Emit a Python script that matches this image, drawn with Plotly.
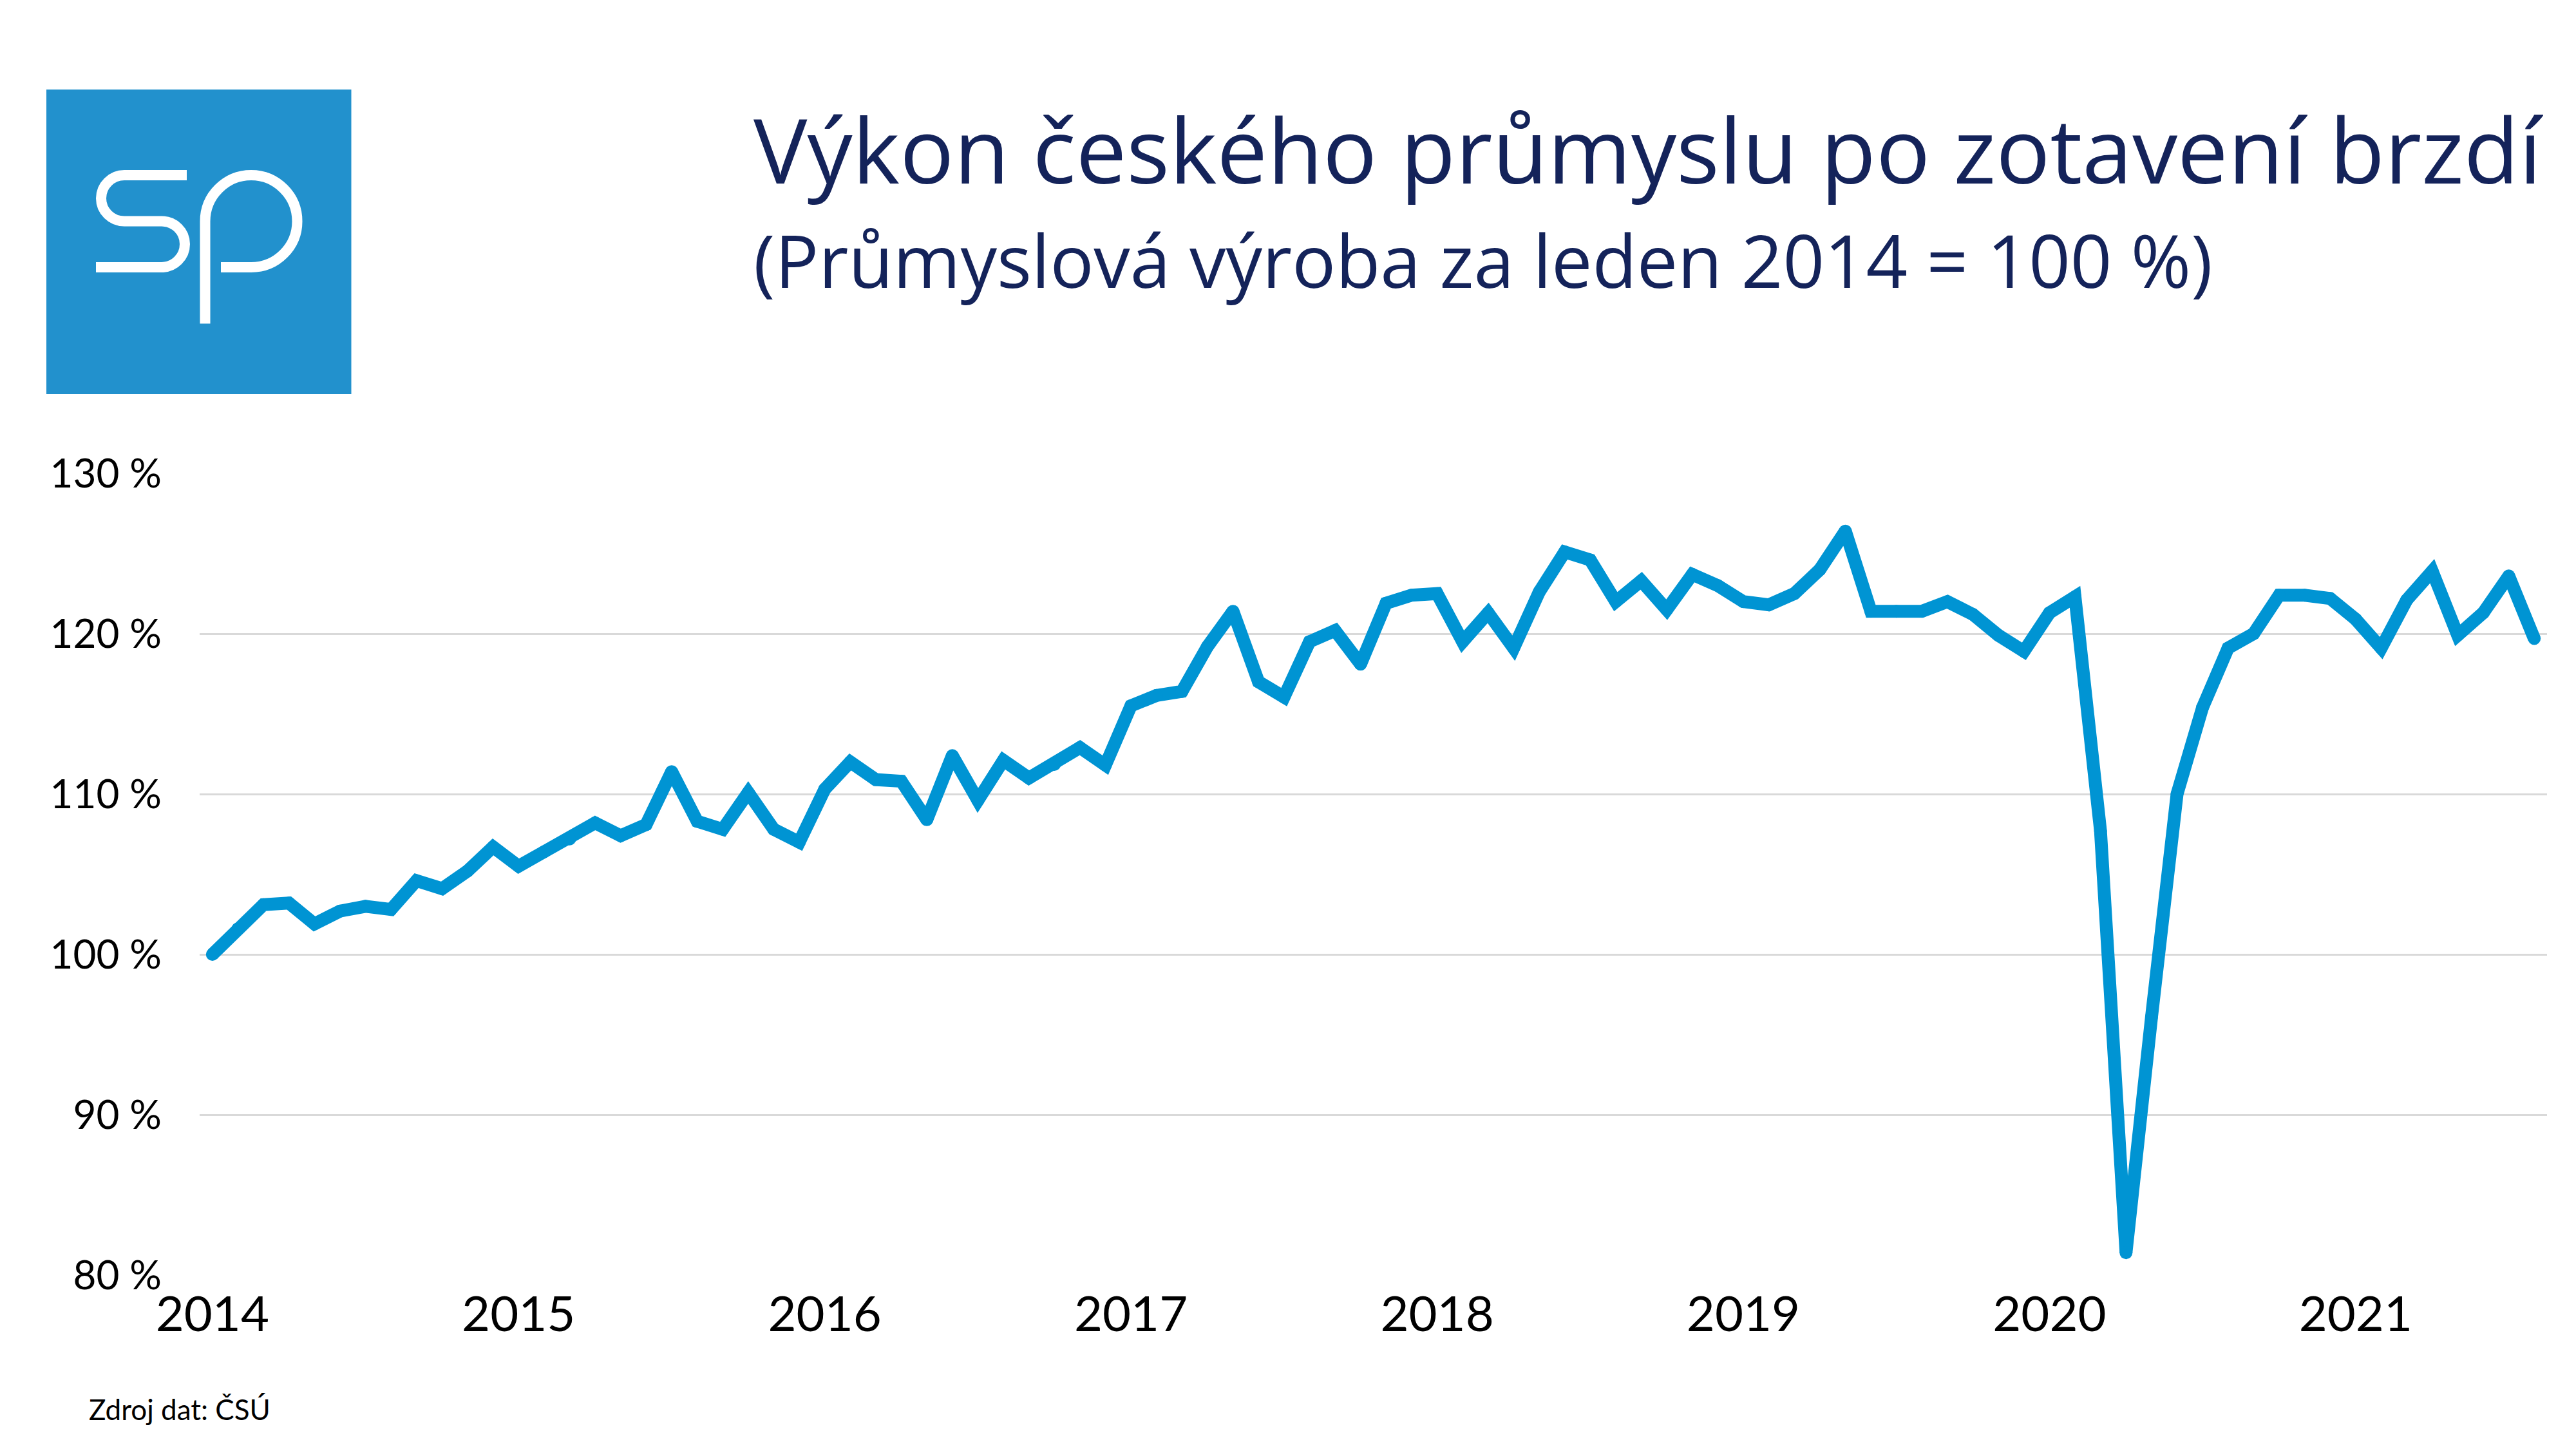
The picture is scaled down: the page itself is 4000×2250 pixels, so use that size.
import plotly.graph_objects as go

years = [2014, 2015, 2016, 2017, 2018, 2019, 2020, 2021]
months = [f"{y}-{m:02d}" for y in years for m in range(1, 13)][:92]

values = [
    100.0, 101.6, 103.1, 103.2, 101.9, 102.7, 103.0, 102.8, 104.6, 104.1, 105.2, 106.7,
    105.5, 106.4, 107.2, 108.2, 107.4, 108.1, 111.4, 108.3, 107.8, 110.1, 107.8, 107.0,
    110.3, 112.0, 110.9, 110.8, 108.4, 112.4, 109.6, 112.1, 111.0, 111.85, 112.9, 111.8,
    115.5, 116.15, 116.4, 119.2, 121.4, 117.0, 116.05, 119.5, 120.2, 118.1, 121.9, 122.4,
    122.5, 119.5, 121.3, 119.1, 122.6, 125.1, 124.6, 122.0, 123.3, 121.5, 123.7, 123.0,
    122.0, 121.8, 122.5, 124.0, 126.4, 121.4, 121.4, 121.4, 122.0, 121.2, 119.9, 118.9,
    121.3, 122.3, 107.7, 81.4, 96.1, 110.0, 115.4, 119.1, 120.0, 122.4, 122.4, 122.2,
    120.9, 119.1, 122.1, 123.9, 119.9, 121.3, 123.6, 119.7,
]

y_ticks = [80, 90, 100, 110, 120, 130]
y_labels = ["80 %", "90 %", "100 %", "110 %", "120 %", "130 %"]
x_ticks = [f"{y}-01" for y in years]
x_labels = [str(y) for y in years]

title_text = "Výkon českého průmyslu po zotavení brzdí"
subtitle_text = "(Průmyslová výroba za leden 2014 = 100 %)"
source_text = "Zdroj dat: ČSÚ"

BLUE = "#0094D3"
LOGO = "#2291CD"
NAVY = "#14235A"
GRID = "#D9D9D9"
LW = 20

# plot area in page pixels
LEFT, RIGHT, TOP, BOTTOM = 302, 3947, 727, 1972


def px(x):
    return (x - LEFT) / (RIGHT - LEFT)


def py(y):
    return (BOTTOM - y) / (BOTTOM - TOP)


def path(*cmds):
    # commands are written in page pixels, shapes want paper coordinates
    out = []
    for c in cmds:
        nums = c[1]
        pts = [f"{px(nums[i])},{py(nums[i + 1])}" for i in range(0, len(nums), 2)]
        out.append(c[0] + " ".join(pts))
    return " ".join(out)


K = 0.5523


def quarter(x0, y0, x1, y1, horiz_first):
    # quarter ellipse between two points
    if horiz_first:
        return ("C", [x0 + (x1 - x0) * K, y0, x1, y1 - (y1 - y0) * K, x1, y1])
    return ("C", [x0, y0 + (y1 - y0) * K, x1 - (x1 - x0) * K, y1, x1, y1])


s_path = path(
    ("M", [282, 264]), ("L", [185, 264]),
    quarter(185, 264, 149, 300, True),
    quarter(149, 300, 185, 335.5, False),
    ("L", [243, 335.5]),
    quarter(243, 335.5, 279, 371, True),
    quarter(279, 371, 243, 407, False),
    ("L", [141, 407]),
)
p_path = path(
    ("M", [310.5, 494.6]), ("L", [310.5, 335.7]),
    quarter(310.5, 335.7, 382, 264, False),
    quarter(382, 264, 453.5, 335.7, True),
    quarter(453.5, 335.7, 382, 407, False),
    ("L", [335, 407]),
)

fig = go.Figure()
fig.add_trace(go.Scatter(
    x=months, y=values, mode="lines+markers",
    line=dict(color=BLUE, width=LW),
    marker=dict(color=BLUE, size=LW, line=dict(width=0)),
    hoverinfo="skip", showlegend=False,
))

shapes = [
    dict(type="rect", xref="paper", yref="paper", x0=px(64), x1=px(537.5), y0=py(604), y1=py(131),
         fillcolor=LOGO, line=dict(width=0)),
    dict(type="path", xref="paper", yref="paper", path=s_path, line=dict(color="white", width=16)),
    dict(type="path", xref="paper", yref="paper", path=p_path, line=dict(color="white", width=16)),
]

annotations = [
    dict(text=title_text, x=px(1160), y=py(222), font=dict(family="Open Sans", size=140, color=NAVY)),
    dict(text=subtitle_text, x=px(1160), y=py(395), font=dict(family="Open Sans", size=113, color=NAVY)),
    dict(text=source_text, x=px(128), y=py(2180), font=dict(family="Lato", size=44, color="black")),
]
for a in annotations:
    a.update(xref="paper", yref="paper", xanchor="left", yanchor="middle", showarrow=False)

fig.update_layout(
    width=4000, height=2250, autosize=False,
    margin=dict(l=LEFT, r=4000 - RIGHT, t=TOP, b=2250 - BOTTOM),
    paper_bgcolor="white", plot_bgcolor="white",
    shapes=shapes, annotations=annotations,
    font=dict(family="Lato", color="black"),
)
fig.update_xaxes(
    type="category", categoryorder="array", categoryarray=months,
    range=[-0.5, 91.5], tickmode="array", tickvals=x_ticks, ticktext=x_labels,
    showgrid=False, zeroline=False, showline=False, ticks="",
    tickangle=0, tickfont=dict(family="Lato", size=76), ticklabelstandoff=10,
)
fig.update_yaxes(
    range=[80, 130], tickmode="array", tickvals=y_ticks, ticktext=y_labels,
    showgrid=True, gridcolor=GRID, gridwidth=3, zeroline=False, showline=False, ticks="",
    tickfont=dict(family="Lato", size=62), ticklabelstandoff=58,
)

fig.write_html("out.html")
